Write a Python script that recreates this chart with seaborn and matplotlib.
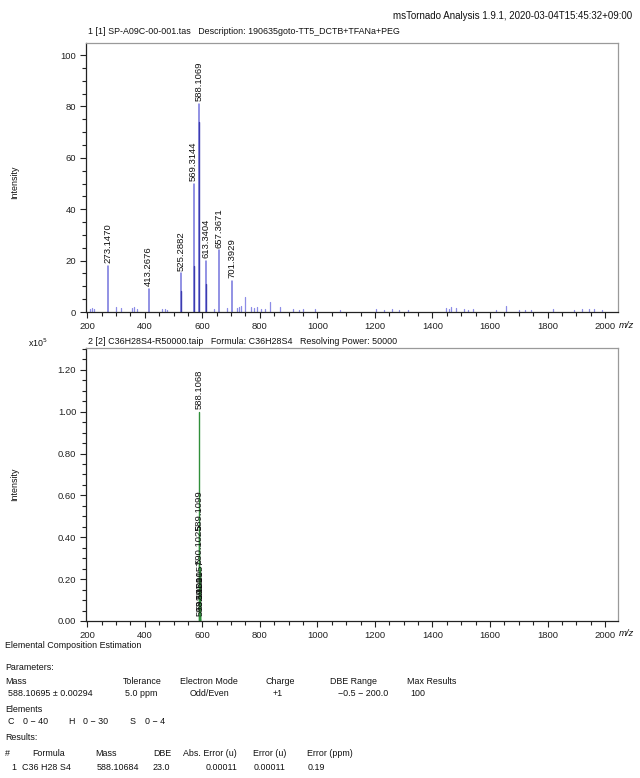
import pandas as pd
import seaborn as sns
import matplotlib.pyplot as plt
from matplotlib.ticker import MultipleLocator, FormatStrFormatter

# ---- data ----
# measured spectrum: labelled peaks
ms_mz = [273.1470, 413.2676, 525.2882, 569.3144, 588.1069, 613.3404, 657.3671, 701.3929]
ms_int = [18, 9, 15, 50, 81, 20, 24, 12]
ms_lab = ["273.1470", "413.2676", "525.2882", "569.3144", "588.1069",
          "613.3404", "657.3671", "701.3929"]
# overlapping (darker) peaks under the labelled ones
ov_mz = [526.29, 570.32, 589.11, 614.34]
ov_int = [8, 18, 74, 11]
# small unlabelled peaks
sm_mz = [208, 215, 224, 300, 317, 356, 362, 373, 460, 470, 478, 640, 687, 722, 728,
         733, 747, 770, 778, 790, 805, 818, 835, 871, 916, 935, 950, 993, 1080,
         1202, 1230, 1260, 1285, 1314, 1447, 1458, 1465, 1481, 1509, 1525, 1540,
         1621, 1655, 1700, 1720, 1742, 1819, 1893, 1920, 1945, 1960, 1989]
sm_int = [1.0, 1.5, 1.2, 2.0, 1.7, 1.5, 1.8, 1.2, 1.0, 1.2, 0.8, 1.0, 1.7, 1.5, 2.0,
          2.5, 6.0, 2.0, 1.5, 2.0, 1.2, 1.0, 4.0, 2.0, 1.0, 0.8, 1.0, 1.0, 0.7,
          1.0, 0.8, 1.0, 0.9, 0.8, 1.5, 1.2, 2.0, 1.5, 1.0, 0.8, 1.0,
          0.7, 2.2, 0.8, 0.7, 0.8, 1.0, 0.8, 1.0, 1.2, 1.0, 0.8]

# simulated isotope pattern (x1e5)
th_mz = [588.1068, 589.1099, 590.1025, 591.1057, 592.1001, 593.1031]
th_int = [1.00, 0.42, 0.26, 0.09, 0.04, 0.01]
th_lab = ["588.1068", "589.1099", "590.1025", "591.1057", "592.1001", "593.1031"]


def sticks(mz, inten):
    rows = []
    for i, (m, h) in enumerate(zip(mz, inten)):
        rows.append({"mz": m, "intensity": 0.0, "peak": i})
        rows.append({"mz": m, "intensity": h, "peak": i})
    return pd.DataFrame(rows)


sns.set_style("ticks")
plt.rcParams['font.family'] = ['Liberation Sans', 'DejaVu Sans']
plt.rcParams['font.size'] = 6.5

fig = plt.figure(figsize=(6.4, 7.78), dpi=100)
W, H = 640, 778
FS = 6.4


def box(l, t, r, b):
    return [l / W, 1 - b / H, (r - l) / W, (b - t) / H]


def style_axis(ax):
    ax.set_xlim(195.5, 2045)
    ax.xaxis.set_major_locator(MultipleLocator(200))
    ax.xaxis.set_minor_locator(MultipleLocator(50))
    ax.tick_params(which='major', direction='out', length=4, width=0.8, pad=3, labelsize=6.8, colors='#222222')
    ax.tick_params(which='minor', direction='out', length=3, width=0.8, colors='#222222')
    for s in ['left', 'bottom']:
        ax.spines[s].set_color('#222222')
        ax.spines[s].set_linewidth(0.9)
    for s in ['top', 'right']:
        ax.spines[s].set_color('#9a9a9a')
        ax.spines[s].set_linewidth(0.9)
    ax.set_xlabel("")
    ax.set_ylabel("")


# ---- top: measured spectrum ----
ax1 = fig.add_axes(box(86, 43, 618, 312))
sns.lineplot(data=sticks(sm_mz, sm_int), x="mz", y="intensity", units="peak", estimator=None,
             sort=False, color="#8c8ce6", linewidth=0.9, ax=ax1, legend=False)
sns.lineplot(data=sticks(ms_mz, ms_int), x="mz", y="intensity", units="peak", estimator=None,
             sort=False, color="#7474dc", linewidth=1.1, ax=ax1, legend=False)
sns.lineplot(data=sticks(ov_mz, ov_int), x="mz", y="intensity", units="peak", estimator=None,
             sort=False, color="#3c3cae", linewidth=1.0, ax=ax1, legend=False)
for m, h, t in zip(ms_mz, ms_int, ms_lab):
    ax1.annotate(t, (m, h), xytext=(0, 2), textcoords="offset points", rotation=90,
                 ha="center", va="bottom", fontsize=6.8, color="#111111")
ax1.set_ylim(0, 104.7)
ax1.yaxis.set_major_locator(MultipleLocator(20))
ax1.yaxis.set_minor_locator(MultipleLocator(5))
style_axis(ax1)

# ---- bottom: simulated spectrum ----
ax2 = fig.add_axes(box(86, 348, 618, 621))
sns.lineplot(data=sticks(th_mz, th_int), x="mz", y="intensity", units="peak", estimator=None,
             sort=False, color="#2f8f3a", linewidth=1.0, ax=ax2, legend=False)
for m, h, t in zip(th_mz, th_int, th_lab):
    ax2.annotate(t, (m, h), xytext=(0, 2), textcoords="offset points", rotation=90,
                 ha="center", va="bottom", fontsize=6.8, color="#111111")
ax2.set_ylim(0, 1.304)
ax2.yaxis.set_major_locator(MultipleLocator(0.2))
ax2.yaxis.set_minor_locator(MultipleLocator(0.05))
ax2.yaxis.set_major_formatter(FormatStrFormatter("%.2f"))
style_axis(ax2)


def ftext(x, y, s, size=FS, **kw):
    fig.text(x / W, 1 - y / H, s, va="center", fontsize=size, color="#111111", **kw)


# headers
ftext(632, 16, "msTornado Analysis 1.9.1, 2020-03-04T15:45:32+09:00", size=7, ha="right")
ftext(88, 31, "1 [1] SP-A09C-00-001.tas   Description: 190635goto-TT5_DCTB+TFANa+PEG")
ftext(88, 342, "2 [2] C36H28S4-R50000.taip   Formula: C36H28S4   Resolving Power: 50000")
ftext(28, 343, "x10$^{5}$")
ftext(15, 182, "Intensity", rotation=90, ha="center")
ftext(15, 484, "Intensity", rotation=90, ha="center")
ftext(619, 326, "m/z", size=6.8, style="italic")
ftext(619, 633, "m/z", size=6.8, style="italic")

# elemental composition block
ftext(5, 646, "Elemental Composition Estimation")
ftext(5, 667, "Parameters:")
for x, s in [(5, "Mass"), (123, "Tolerance"), (180, "Electron Mode"), (265, "Charge"),
             (330, "DBE Range"), (407, "Max Results")]:
    ftext(x, 682, s)
for x, s in [(8, "588.10695 \u00b1 0.00294"), (125, "5.0 ppm"), (190, "Odd/Even"), (273, "+1"),
             (338, "\u22120.5 \u2212 200.0"), (410, "100")]:
    ftext(x, 694, s)
ftext(5, 710, "Elements")
for x, s in [(8, "C"), (23, "0 \u2212 40"), (68, "H"), (83, "0 \u2212 30"), (130, "S"), (145, "0 \u2212 4")]:
    ftext(x, 722, s)
ftext(5, 738, "Results:")
for x, s in [(5, "#"), (32, "Formula"), (95, "Mass"), (153, "DBE"), (183, "Abs. Error (u)"),
             (253, "Error (u)"), (307, "Error (ppm)")]:
    ftext(x, 753, s)
ftext(11, 767, "1")
ftext(22, 767, "C36 H28 S4")
ftext(97, 767, "588.10684")
ftext(153, 767, "23.0")
ftext(237, 767, "0.00011", ha="right")
ftext(286, 767, "0.00011", ha="right")
ftext(325, 767, "0.19", ha="right")

plt.savefig("out.png", dpi=100)
plt.close()
